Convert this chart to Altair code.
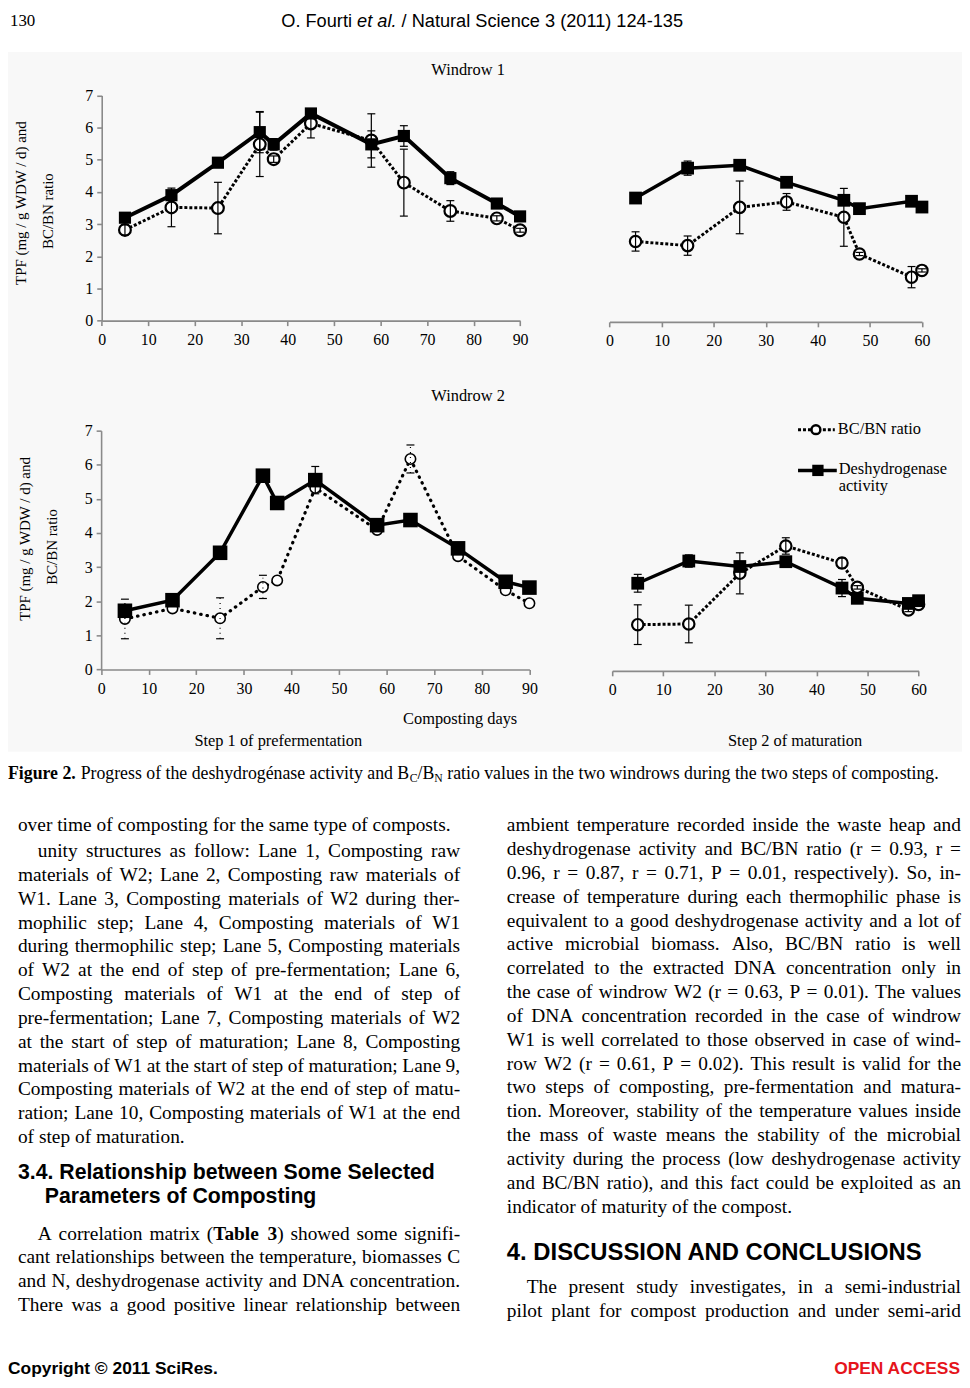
import altair as alt
import pandas as pd

# ---------------- data ----------------
days_step1 = [5, 15, 25, 34, 37, 45, 58, 65, 75, 85, 90]
days_step2 = [5, 15, 25, 34, 45, 48, 58, 60]

w1_s1_dh = [3.20, 3.90, 4.91, 5.86, 5.48, 6.44, 5.48, 5.74, 4.43, 3.64, 3.24]
w1_s1_dh_sd = [0.08, 0.15, 0.13, 0.64, 0.18, 0.10, 0.42, 0.32, 0.20, 0.05, 0.05]
w1_s1_bc = [2.82, 3.52, 3.50, 5.48, 5.02, 6.13, 5.60, 4.29, 3.41, 3.18, 2.81]
w1_s1_bc_sd = [0.16, 0.60, 0.80, 1.00, 0.10, 0.45, 0.83, 1.04, 0.32, 0.08, 0.06]

w1_s2_dh = [3.85, 4.78, 4.87, 4.34, 3.78, 3.52, 3.75, 3.57]
w1_s2_dh_sd = [0.05, 0.22, 0.15, 0.10, 0.10, 0.05, 0.05, 0.05]
w1_s2_bc = [2.50, 2.37, 3.56, 3.73, 3.25, 2.11, 1.39, 1.60]
w1_s2_bc_sd = [0.30, 0.30, 0.82, 0.26, 0.90, 0.05, 0.33, 0.05]

w2_s1_dh = [1.72, 2.03, 3.42, 5.68, 4.88, 5.55, 4.23, 4.38, 3.55, 2.57, 2.40]
w2_s1_dh_sd = [0.13, 0.05, 0.05, 0.05, 0.05, 0.40, 0.05, 0.05, 0.05, 0.05, 0.05]
w2_s1_bc = [1.48, 1.79, 1.50, 2.42, 2.61, 5.32, 4.09, 6.17, 3.32, 2.32, 1.94]
w2_s1_bc_sd = [0.58, 0.0, 0.60, 0.34, 0.0, 0.0, 0.0, 0.41, 0.0, 0.0, 0.0]

w2_s2_dh = [2.56, 3.21, 3.05, 3.19, 2.42, 2.12, 1.97, 2.05]
w2_s2_dh_sd = [0.26, 0.18, 0.10, 0.05, 0.25, 0.05, 0.05, 0.05]
w2_s2_bc = [1.35, 1.37, 2.85, 3.65, 3.15, 2.44, 1.78, 1.94]
w2_s2_bc_sd = [0.58, 0.55, 0.60, 0.24, 0.15, 0.05, 0.05, 0.05]

y_ticks = [0, 1, 2, 3, 4, 5, 6, 7]
x_ticks_s1 = [0, 10, 20, 30, 40, 50, 60, 70, 80, 90]
x_ticks_s2 = [0, 10, 20, 30, 40, 50, 60]

# ---------------- page text ----------------
header_page = "130"
header_runs = ["O. Fourti ", "et al.", " / Natural Science 3 (2011) 124-135"]
windrow_titles = ["Windrow 1", "Windrow 2"]
y_title = ["TPF (mg / g WDW / d) and", "BC/BN ratio"]
legend_labels = ["BC/BN ratio", "Deshydrogenase", "activity"]
x_title = "Composting days"
step_labels = ["Step 1 of prefermentation", "Step 2 of maturation"]
caption_runs = [("Figure 2.", "bold"),
                (" Progress of the deshydrogénase activity and B", "normal"),
                ("C", "sub"), ("/B", "normal"), ("N", "sub"),
                (" ratio values in the two windrows during the two steps of composting.", "normal")]

left_a = ["over time of composting for the same type of composts."]
left_b = ["unity structures as follow: Lane 1, Composting raw",
          "materials of W2; Lane 2, Composting raw materials of",
          "W1. Lane 3, Composting materials of W2 during ther-",
          "mophilic step; Lane 4, Composting materials of W1",
          "during thermophilic step; Lane 5, Composting materials",
          "of W2 at the end of step of pre-fermentation; Lane 6,",
          "Composting materials of W1 at the end of step of",
          "pre-fermentation; Lane 7, Composting materials of W2",
          "at the start of step of maturation; Lane 8, Composting",
          "materials of W1 at the start of step of maturation; Lane 9,",
          "Composting materials of W2 at the end of step of matu-",
          "ration; Lane 10, Composting materials of W1 at the end",
          "of step of maturation."]
heading_34 = ["3.4. Relationship between Some Selected", "Parameters of Composting"]
left_c = ["A correlation matrix (**Table 3**) showed some signifi-",
          "cant relationships between the temperature, biomasses C",
          "and N, deshydrogenase activity and DNA concentration.",
          "There was a good positive linear relationship between"]
right_a = ["ambient temperature recorded inside the waste heap and",
           "deshydrogenase activity and BC/BN ratio (r = 0.93, r =",
           "0.96, r = 0.87, r = 0.71, P = 0.01, respectively). So, in-",
           "crease of temperature during each thermophilic phase is",
           "equivalent to a good deshydrogenase activity and a lot of",
           "active microbial biomass. Also, BC/BN ratio is well",
           "correlated to the extracted DNA concentration only in",
           "the case of windrow W2 (r = 0.63, P = 0.01). The values",
           "of DNA concentration recorded in the case of windrow",
           "W1 is well correlated to those observed in case of wind-",
           "row W2 (r = 0.61, P = 0.02). This result is valid for the",
           "two steps of composting, pre-fermentation and matura-",
           "tion. Moreover, stability of the temperature values inside",
           "the mass of waste means the stability of the microbial",
           "activity during the process (low deshydrogenase activity",
           "and BC/BN ratio), and this fact could be exploited as an",
           "indicator of maturity of the compost."]
heading_4 = "4. DISCUSSION AND CONCLUSIONS"
right_b = ["The present study investigates, in a semi-industrial",
           "pilot plant for compost production and under semi-arid"]
footer_left = "Copyright © 2011 SciRes."
footer_right = "OPEN ACCESS"

# ---------------- fonts / metrics (Times/Arial-compatible, for placing runs) ----------------
SERIF = "Liberation Serif"
SANS = "Liberation Sans"
TR = {" ": 250, ".": 250, ",": 250, ";": 278, ":": 278, "(": 333, ")": 333, "-": 333,
      "/": 278, "=": 564, "é": 444,
      "A": 722, "B": 667, "C": 667, "D": 722, "E": 611, "F": 556, "G": 722, "H": 722,
      "I": 333, "J": 389, "K": 722, "L": 611, "M": 889, "N": 722, "O": 722, "P": 556,
      "Q": 722, "R": 667, "S": 556, "T": 611, "U": 722, "V": 722, "W": 944, "X": 722,
      "Y": 722, "Z": 611,
      "a": 444, "b": 500, "c": 444, "d": 500, "e": 444, "f": 333, "g": 500, "h": 500,
      "i": 278, "j": 278, "k": 500, "l": 278, "m": 778, "n": 500, "o": 500, "p": 500,
      "q": 500, "r": 333, "s": 389, "t": 278, "u": 500, "v": 500, "w": 722, "x": 500,
      "y": 500, "z": 444}
for d in "0123456789":
    TR[d] = 500
TB = dict(TR)
TB.update({"T": 667, "a": 500, "b": 556, "r": 444, "u": 556, "F": 611})
HV = {" ": 278, ".": 278, "/": 278, "(": 333, ")": 333, "-": 333, "O": 778, "F": 611,
      "N": 722, "S": 667, "a": 556, "c": 500, "e": 556, "i": 222, "l": 222, "n": 556,
      "o": 556, "r": 333, "s": 500, "t": 278, "u": 556}
for d in "0123456789":
    HV[d] = 556


def tw(s, table, size):
    return sum(table.get(c, 500) for c in s) * size / 1000.0


def add_run(rows, txt, x, y, table, size, **extra):
    # SVG drops leading blanks, so move the run right by their width instead
    stripped = txt.lstrip(" ")
    lead = tw(txt[:len(txt) - len(stripped)], table, size)
    rows.append(dict(text=stripped, x=x + lead, y=y, **extra))
    return x + tw(txt, table, size)


BODY = 19.5
LINE = 24.0


def block(lines, x0, width, y0, step, justify_last=True, first_indent=0):
    rows = []
    bold = False
    for i, txt in enumerate(lines):
        y = y0 + i * step
        indent = first_indent if i == 0 else 0
        justify = justify_last or i < len(lines) - 1
        words = txt.split(" ")
        wsegs = []
        for w in words:
            segs = []
            for j, p in enumerate(w.split("**")):
                if j > 0:
                    bold = not bold
                if p:
                    segs.append((p, bold))
            wsegs.append(segs)
        ww = [sum(tw(p, TB if b else TR, BODY) for p, b in s) for s in wsegs]
        if justify and len(words) > 1:
            gap = (width - indent - sum(ww)) / (len(words) - 1)
        else:
            gap = TR[" "] * BODY / 1000.0
        x = x0 + indent
        for s, w in zip(wsegs, ww):
            xx = x
            for p, b in s:
                rows.append({"text": p, "x": xx, "y": y, "bold": b})
                xx += tw(p, TB if b else TR, BODY)
            x += w + gap
    return rows


body_rows = []
body_rows += block(left_a, 10, 445, 818, LINE, justify_last=False)
body_rows += block(left_b, 10, 445, 844, LINE, justify_last=False, first_indent=20)
body_rows += block(left_c, 10, 445, 1229, LINE, justify_last=True, first_indent=20)
body_rows += block(right_a, 502, 457, 818, LINE, justify_last=False)
body_rows += block(right_b, 502, 457, 1283, LINE, justify_last=True, first_indent=20)
body_df = pd.DataFrame(body_rows)

# caption runs
CAP = 17.9
cap_rows = []
cx = 0.0
for txt, kind in caption_runs:
    if kind == "sub":
        cx = add_run(cap_rows, txt, cx, 771, TR, CAP * 0.66, kind=kind)
    elif kind == "bold":
        cx = add_run(cap_rows, txt, cx, 767, TB, CAP, kind=kind)
    else:
        cx = add_run(cap_rows, txt, cx, 767, TR, CAP, kind=kind)
cap_df = pd.DataFrame(cap_rows)

# header runs
HEAD = 18.3
hx = 275.0
head_rows = []
for k, txt in enumerate(header_runs):
    hx = add_run(head_rows, txt, hx, 9.5, HV, HEAD, ital=(k == 1))
head_df = pd.DataFrame(head_rows)

ONE = pd.DataFrame({"k": [0]})


def label(text, x, y, size, font=SERIF, weight="normal", align="left", angle=None, color="black", style="normal"):
    kw = dict(text=text, font=font, fontSize=size, fontWeight=weight, align=align,
              baseline="middle", color=color, fontStyle=style)
    if angle is not None:
        kw["angle"] = angle
    return alt.Chart(ONE).mark_text(**kw).encode(x=alt.value(x), y=alt.value(y))


def runs_layer(df, size, font=SERIF, weight="normal", style="normal"):
    return alt.Chart(df).mark_text(font=font, fontSize=size, fontWeight=weight, fontStyle=style,
                                   align="left", baseline="middle", color="black").encode(
        x=alt.X("x:Q", scale=None, axis=None),
        y=alt.Y("y:Q", scale=None, axis=None),
        text="text:N")


H = 1372
W = 960
AX = dict(domainColor="#8a8a8a", tickColor="#8a8a8a", domainWidth=1.6, tickWidth=1.6, tickSize=5,
          labelFont=SERIF, labelFontSize=16, labelColor="black", grid=False, title=None, zindex=1)


def panel(days, dh, dh_sd, bc, bc_sd, xticks, xr, yr, y_left, st):
    df = pd.DataFrame({"day": days, "dh": dh, "dh_sd": dh_sd, "bc": bc, "bc_sd": bc_sd})
    xs = alt.Scale(domain=[0, xticks[-1]], range=xr, nice=False, zero=False)
    ys = alt.Scale(domain=[0, 7], range=yr, nice=False, zero=False)
    xa = alt.Axis(orient="bottom", offset=yr[0] - H, values=xticks, labelFlush=False,
                  labelPadding=6, **AX)
    ya = alt.Axis(orient="left", offset=-xr[0], values=y_ticks, labelPadding=4, **AX) if y_left else None

    def X():
        return alt.X("day:Q", scale=xs, axis=xa)

    def Y(f):
        return alt.Y(f + ":Q", scale=ys, axis=ya)

    base = alt.Chart(df)
    layers = []
    layers.append(base.mark_line(color="black", strokeWidth=st["bw"], strokeDash=st["dash"],
                                 strokeCap=st["cap"]).encode(x=X(), y=Y("bc")))
    layers.append(base.mark_point(shape="circle", filled=True, fill="white", stroke="black",
                                  strokeWidth=st["cw"], size=st["cs"], opacity=1).encode(x=X(), y=Y("bc")))
    layers.append(base.mark_line(color="black", strokeWidth=st["dw"]).encode(x=X(), y=Y("dh")))
    layers.append(base.mark_square(color="black", size=st["ss"], opacity=1).encode(x=X(), y=Y("dh")))
    for f in ["dh", "bc"]:
        eb = base.transform_filter(f"datum.{f}_sd > 0").transform_calculate(
            lo=f"datum.{f} - datum.{f}_sd", hi=f"datum.{f} + datum.{f}_sd")
        dash = st["edash"] if f == "bc" else [1, 0]
        layers.append(eb.mark_rule(color="black", strokeWidth=1.2, strokeDash=dash).encode(
            x=X(), y=Y("lo"), y2="hi:Q"))
        for end in ["lo", "hi"]:
            layers.append(eb.mark_rule(color="black", strokeWidth=1.2, xOffset=-4, x2Offset=4).encode(
                x=X(), x2="day:Q", y=Y(end)))
    return alt.layer(*layers)


st1 = dict(bw=3, dash=[3, 2], cap="butt", cw=2.2, cs=140, dw=4, ss=150, edash=[1, 0])
st2 = dict(bw=3, dash=[3, 2], cap="butt", cw=2.2, cs=130, dw=3.5, ss=165, edash=[1, 0])
st3 = dict(bw=3.2, dash=[0.5, 6], cap="round", cw=1.6, cs=110, dw=3.5, ss=215, edash=[1, 4])
st4 = dict(bw=3, dash=[3, 2], cap="butt", cw=2.2, cs=130, dw=3.5, ss=165, edash=[1, 0])

p1 = panel(days_step1, w1_s1_dh, w1_s1_dh_sd, w1_s1_bc, w1_s1_bc_sd, x_ticks_s1,
           [94.3, 515.3], [310.3, 83.7], True, st1)
p2 = panel(days_step2, w1_s2_dh, w1_s2_dh_sd, w1_s2_bc, w1_s2_bc_sd, x_ticks_s2,
           [605.3, 919.7], [311.5, 85.0], False, st2)
p3 = panel(days_step1, w2_s1_dh, w2_s1_dh_sd, w2_s1_bc, w2_s1_bc_sd, x_ticks_s1,
           [93.7, 524.7], [661.3, 421.0], True, st3)
p4 = panel(days_step2, w2_s2_dh, w2_s2_dh_sd, w2_s2_bc, w2_s2_bc_sd, x_ticks_s2,
           [608.0, 916.3], [662.7, 421.7], False, st4)

bg = alt.Chart(ONE).mark_rect(color="#f8f8f8").encode(
    x=alt.value(0), x2=alt.value(W), y=alt.value(40), y2=alt.value(744))

fig_text = [
    label(windrow_titles[0], 463, 58, 16.5, align="center"),
    label(windrow_titles[1], 463, 386, 16.5, align="center"),
    label(y_title[0], 13.5, 192, 15, align="center", angle=270),
    label(y_title[1], 40.3, 200, 15, align="center", angle=270),
    label(y_title[0], 17.5, 530, 15, align="center", angle=270),
    label(y_title[1], 44.3, 538, 15, align="center", angle=270),
    label(x_title, 455, 711, 16.5, align="center"),
    label(step_labels[0], 272, 733, 16.5, align="center"),
    label(step_labels[1], 792, 733, 16.5, align="center"),
    label(legend_labels[0], 835, 419, 16.5),
    label(legend_labels[1], 836, 460, 16.5),
    label(legend_labels[2], 836, 477, 16.5),
]
legend_marks = [
    alt.Chart(ONE).mark_rule(color="black", strokeWidth=3, strokeDash=[3, 2]).encode(
        x=alt.value(795), x2=alt.value(832), y=alt.value(420)),
    alt.Chart(ONE).mark_point(shape="circle", filled=True, fill="white", stroke="black",
                              strokeWidth=2.5, size=80, opacity=1).encode(x=alt.value(813), y=alt.value(420)),
    alt.Chart(ONE).mark_rule(color="black", strokeWidth=3.5).encode(
        x=alt.value(795), x2=alt.value(834), y=alt.value(461)),
    alt.Chart(ONE).mark_square(color="black", size=130, opacity=1).encode(x=alt.value(815), y=alt.value(461)),
]

page_text = [
    label(header_page, 2, 9, 17),
    runs_layer(head_df[~head_df.ital], HEAD, font=SANS),
    runs_layer(head_df[head_df.ital], HEAD, font=SANS, style="italic"),
    runs_layer(cap_df[cap_df.kind == "bold"], CAP, weight="bold"),
    runs_layer(cap_df[cap_df.kind == "normal"], CAP),
    runs_layer(cap_df[cap_df.kind == "sub"], CAP * 0.66),
    runs_layer(body_df[~body_df.bold], BODY),
    runs_layer(body_df[body_df.bold], BODY, weight="bold"),
    label(heading_34[0], 10, 1168, 21.4, font=SANS, weight="bold"),
    label(heading_34[1], 37, 1192, 21.4, font=SANS, weight="bold"),
    label(heading_4, 502, 1249, 24, font=SANS, weight="bold"),
    label(footer_left, 0, 1365, 17.5, font=SANS, weight="bold"),
    label(footer_right, 958, 1365, 17.5, font=SANS, weight="bold", align="right", color="#e5141b"),
]

chart = alt.layer(bg, p1, p2, p3, p4, *legend_marks, *fig_text, *page_text).resolve_scale(
    x="independent", y="independent").properties(
    width=W, height=H, padding=0, autosize=alt.AutoSizeParams(type="none")).configure_view(stroke=None)

chart.save("out.html", embed_options={"renderer": "svg", "actions": False})
